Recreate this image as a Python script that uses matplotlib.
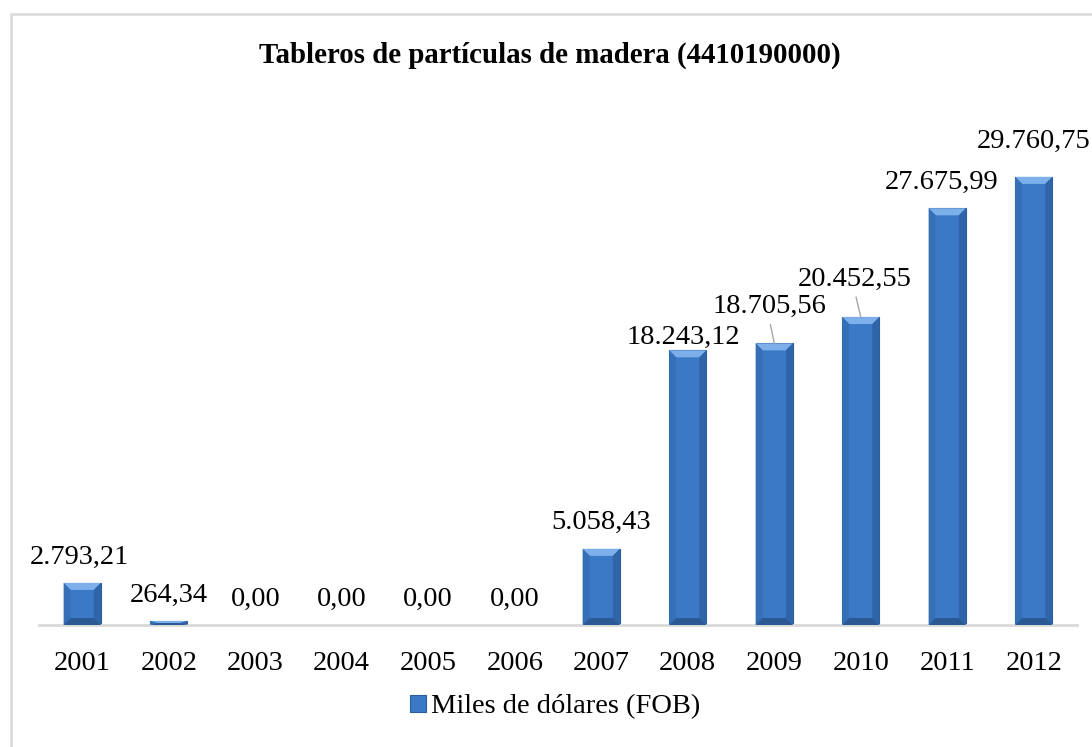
import matplotlib
matplotlib.use('Agg')
from matplotlib import pyplot as plt
from matplotlib.patches import Polygon, Rectangle, Patch
import numpy as np

years = ['2001', '2002', '2003', '2004', '2005', '2006',
         '2007', '2008', '2009', '2010', '2011', '2012']
values = [2793.21, 264.34, 0.00, 0.00, 0.00, 0.00,
          5058.43, 18243.12, 18705.56, 20452.55, 27675.99, 29760.75]
labels = ['2.793,21', '264,34', '0,00', '0,00', '0,00', '0,00',
          '5.058,43', '18.243,12', '18.705,56', '20.452,55', '27.675,99', '29.760,75']
# label placement (pixels from the top of each bar) and which ones get a leader line
label_dx = [-3, 0, 0, 0, 0, 0, 0, -4, -5, -6, -6, 0]
label_dy = [26, 26, 26, 26, 26, 26, 26, 13, 37, 38, 26, 35]
leader = [False] * 8 + [True, True, False, False]

title = 'Tableros de partículas de madera (4410190000)'
series_name = 'Miles de dólares (FOB)'

W, H = 1092, 747
plt.rcParams['font.family'] = ['Liberation Serif', 'DejaVu Serif']
fs = 20.5

blue = '#3b79c6'
blue_light = '#7db0ea'
blue_dark = '#2c5d9b'

fig = plt.figure(figsize=(W / 100, H / 100), dpi=100)

# light grey frame (left and top edges visible)
fig.patches.append(Rectangle((11 / W, -0.1), 1.2, 1.1 - 14 / H,
                             transform=fig.transFigure, fill=False,
                             edgecolor='#d9d9d9', linewidth=1.8))

ax = fig.add_axes([39 / W, (H - 625) / H, (1077 - 39) / W, (625 - 98) / H])
ax.set_xlim(-0.5, len(years) - 0.5)
ax.set_ylim(0, 35000)

x = np.arange(len(years))
width = 0.43
bars = ax.bar(x, values, width=width, color=blue, edgecolor=blue_dark,
              linewidth=0.8, zorder=2)

# bevel: lighter top face and darker side strips, sized in pixels
px_x = (len(years)) / ax.get_position().width / W   # data units per pixel (x)
px_y = 35000 / (ax.get_position().height * H)       # data units per pixel (y)
for b in bars:
    x0, y0 = b.get_x(), b.get_y()
    w, h = b.get_width(), b.get_height()
    if h <= 0:
        continue
    bx = 7 * px_x
    by = min(7 * px_y, h / 2)
    top = y0 + h
    ax.add_patch(Polygon([(x0, top), (x0 + w, top), (x0 + w - bx, top - by),
                          (x0 + bx, top - by)], closed=True,
                         facecolor=blue_light, edgecolor='none', zorder=3))
    ax.add_patch(Polygon([(x0, top), (x0 + bx, top - by), (x0 + bx, y0 + by),
                          (x0, y0)], closed=True,
                         facecolor='#356fb6', edgecolor='none', zorder=3))
    ax.add_patch(Polygon([(x0 + w, top), (x0 + w - bx, top - by),
                          (x0 + w - bx, y0 + by), (x0 + w, y0)], closed=True,
                         facecolor='#2f64a8', edgecolor='none', zorder=3))
    ax.add_patch(Polygon([(x0, y0), (x0 + bx, y0 + by), (x0 + w - bx, y0 + by),
                          (x0 + w, y0)], closed=True,
                         facecolor='#2a5994', edgecolor='none', zorder=3))

for i, v in enumerate(values):
    kw = {}
    if leader[i]:
        kw['arrowprops'] = dict(arrowstyle='-', color='#a6a6a6', lw=1.0,
                                shrinkA=2, shrinkB=0, relpos=(0.5, 0.0))
    ax.annotate(labels[i], xy=(x[i], v), xytext=(label_dx[i], label_dy[i]),
                textcoords='offset pixels', ha='center', va='center',
                fontsize=fs, color='black', annotation_clip=False, zorder=4, **kw)

for s in ['top', 'right', 'left']:
    ax.spines[s].set_visible(False)
ax.spines['bottom'].set_color('#d9d9d9')
ax.spines['bottom'].set_linewidth(2)
ax.set_yticks([])
ax.set_xticks(x)
ax.set_xticklabels(years, fontsize=fs)
ax.tick_params(axis='x', length=0, pad=18.5)

fig.text(550 / W, 1 - 55 / H, title, ha='center', va='center',
         fontsize=20.8, fontweight='bold')

handle = Patch(facecolor=blue, edgecolor=blue_dark, linewidth=0.8)
fig.legend([handle], [series_name], loc='center',
           bbox_to_anchor=(555 / W, 1 - 707 / H), frameon=False,
           fontsize=fs, handlelength=0.55, handleheight=0.55,
           handletextpad=0.18)

fig.savefig('out.png', dpi=100)
